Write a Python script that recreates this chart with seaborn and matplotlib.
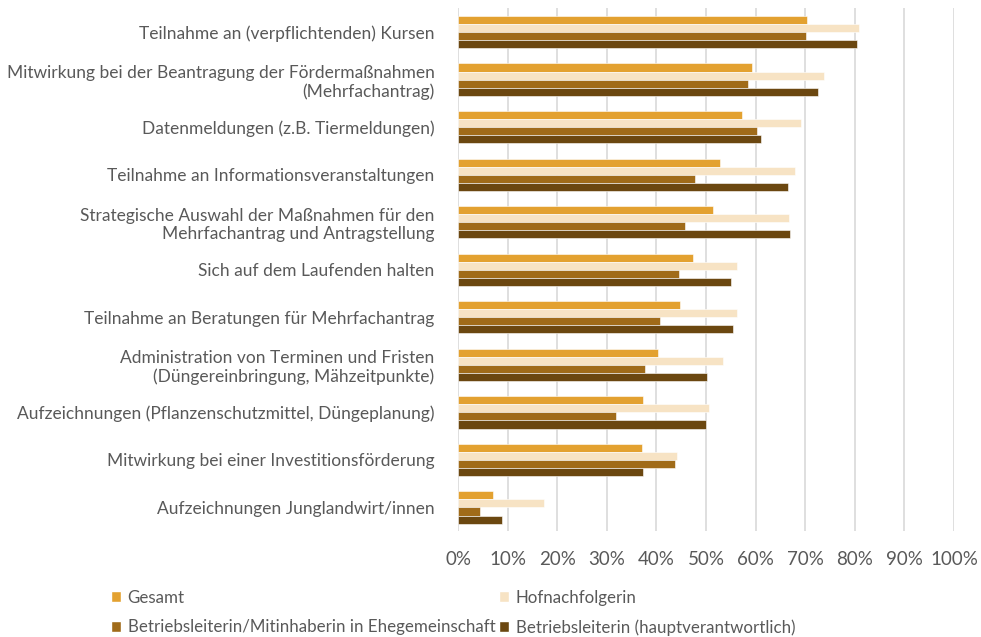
import numpy as np
import pandas as pd
import matplotlib
matplotlib.use('Agg')
import matplotlib.pyplot as plt
import seaborn as sns
from matplotlib.patches import Patch

# categories (top to bottom)
categories = [
    'Teilnahme an (verpflichtenden) Kursen',
    'Mitwirkung bei der Beantragung der Fördermaßnahmen\n(Mehrfachantrag)',
    'Datenmeldungen (z.B. Tiermeldungen)',
    'Teilnahme an Informationsveranstaltungen',
    'Strategische Auswahl der Maßnahmen für den\nMehrfachantrag und Antragstellung',
    'Sich auf dem Laufenden halten',
    'Teilnahme an Beratungen für Mehrfachantrag',
    'Administration von Terminen und Fristen\n(Düngereinbringung, Mähzeitpunkte)',
    'Aufzeichnungen (Pflanzenschutzmittel, Düngeplanung)',
    'Mitwirkung bei einer Investitionsförderung',
    'Aufzeichnungen Junglandwirt/innen',
]
groups = ['Gesamt', 'Hofnachfolgerin',
          'Betriebsleiterin/Mitinhaberin in Ehegemeinschaft',
          'Betriebsleiterin (hauptverantwortlich)']

gesamt = [70.3, 59.3, 57.2, 52.9, 51.5, 47.3, 44.8, 40.3, 37.3, 37.0, 7.1]
hofnachfolgerin = [80.8, 73.8, 69.2, 68.0, 66.8, 56.3, 56.3, 53.5, 50.6, 44.2, 17.4]
mitinhaberin = [70.1, 58.4, 60.3, 47.7, 45.8, 44.6, 40.7, 37.7, 31.8, 43.8, 4.4]
hauptverantwortlich = [80.5, 72.5, 61.1, 66.5, 67.0, 55.1, 55.5, 50.1, 50.0, 37.3, 8.9]

colors = ['#E3A130', '#F7E3C4', '#A06B19', '#6B4710']

rows = []
for g, vals in zip(groups, [gesamt, hofnachfolgerin, mitinhaberin, hauptverantwortlich]):
    for c, v in zip(categories, vals):
        rows.append({'Kategorie': c, 'Gruppe': g, 'Wert': v})
df = pd.DataFrame(rows)

sns.set_style('white')
plt.rcParams['font.family'] = ['Lato', 'DejaVu Sans']
txt = '#595959'

fig = plt.figure(figsize=(9.81, 6.37), dpi=100)
ax = fig.add_axes([0.4669, 0.166, 0.5056, 0.821])

sns.barplot(data=df, y='Kategorie', x='Wert', hue='Gruppe', hue_order=groups,
            order=categories, palette=colors, saturation=1, orient='h', width=0.68,
            edgecolor='white', linewidth=0.4, legend=False, ax=ax)

ax.set_xlim(0, 100)
ax.set_ylim(10.5, -0.5)
ax.set_xticks(np.arange(0, 101, 10))
ax.set_xticklabels([f'{v}%' for v in range(0, 101, 10)], fontsize=13.5, color=txt)
ax.tick_params(axis='y', labelsize=12.5, labelcolor=txt, length=0, pad=17)
ax.tick_params(axis='x', length=0, pad=14)
ax.xaxis.grid(True, color='#D9D9D9', linewidth=1.2)
ax.set_axisbelow(True)
ax.set_xlabel('')
ax.set_ylabel('')
for s in ax.spines.values():
    s.set_visible(False)

handles = [Patch(facecolor=c) for c in colors]
order = [0, 2, 1, 3]
fig.legend([handles[i] for i in order], [groups[i] for i in order],
           loc='upper left', bbox_to_anchor=(0.106, 0.085), ncol=2,
           frameon=False, fontsize=12.2, labelcolor=txt,
           handlelength=0.6, handleheight=0.6, handletextpad=0.4,
           columnspacing=0.2, labelspacing=0.8, borderaxespad=0)

fig.savefig('out.png', dpi=100)
